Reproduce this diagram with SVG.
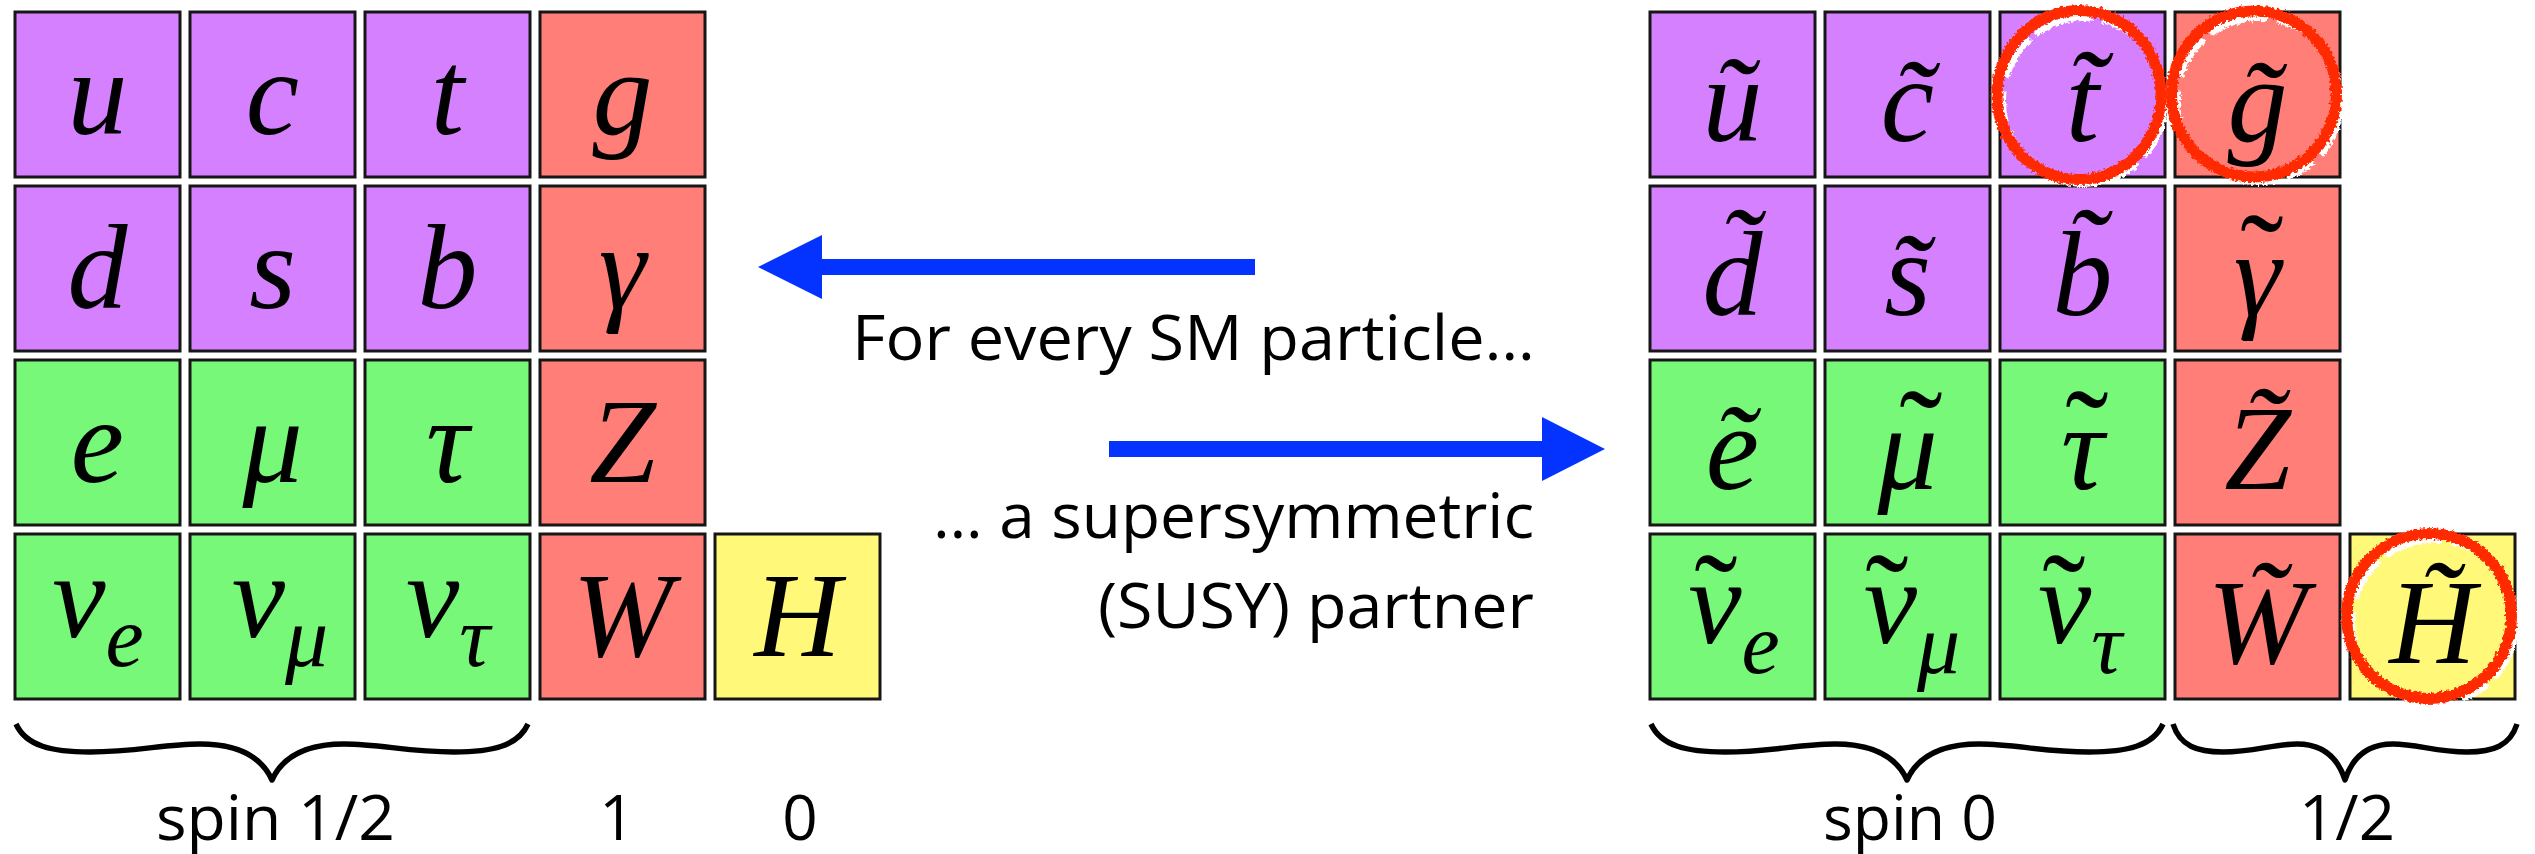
<svg xmlns="http://www.w3.org/2000/svg" width="2535" height="854" viewBox="0 0 2535 854">
  <style>
    .cell { stroke: #161616; stroke-width: 3; }
    .q { fill: #D580FF; }
    .l { fill: #78F878; }
    .b { fill: #FF7F78; }
    .h { fill: #FFF878; }
    .sym { font-family: "Liberation Serif", "DejaVu Serif", "Times New Roman", serif; font-style: italic; font-size: 120px; text-anchor: middle; fill: #000; }
    .sub { font-size: 86px; }
    .til { font-style: normal; font-size: 130px; }
    .lbl { font-family: "Open Sans", "Liberation Sans", sans-serif; font-size: 62px; fill: #000; }
    .mid { text-anchor: middle; }
    .brace { fill: none; stroke: #000; stroke-width: 5.5; stroke-linecap: butt; stroke-linejoin: round; }
    .arrow { fill: #0433FF; }
    .ring { fill: none; stroke: #FF2B06; stroke-width: 11; filter: url(#chalk); }
    .ring-hi { fill: none; stroke: #FFFFFF; stroke-width: 6; stroke-dasharray: 60 10 30 14 45 8; filter: url(#chalk); }
  </style>
  <defs>
    <filter id="chalk" x="-15%" y="-15%" width="130%" height="130%">
      <feTurbulence type="fractalNoise" baseFrequency="0.35" numOctaves="2" seed="7" result="noise"/>
      <feDisplacementMap in="SourceGraphic" in2="noise" scale="6" xChannelSelector="R" yChannelSelector="G"/>
    </filter>
  </defs>

  <rect width="2535" height="854" fill="#FFFFFF"/>

  <!-- Standard Model particles -->
  <g id="sm-u"><rect class="cell q" x="15" y="12" width="165" height="165"/><text class="sym" x="97.5" y="134">u</text></g>
  <g id="sm-c"><rect class="cell q" x="190" y="12" width="165" height="165"/><text class="sym" x="272.5" y="134">c</text></g>
  <g id="sm-t"><rect class="cell q" x="365" y="12" width="165" height="165"/><text class="sym" x="447.5" y="134">t</text></g>
  <g id="sm-g"><rect class="cell b" x="540" y="12" width="165" height="165"/><text class="sym" x="622.5" y="134">g</text></g>

  <g id="sm-d"><rect class="cell q" x="15" y="186" width="165" height="165"/><text class="sym" x="97.5" y="308">d</text></g>
  <g id="sm-s"><rect class="cell q" x="190" y="186" width="165" height="165"/><text class="sym" x="272.5" y="308">s</text></g>
  <g id="sm-b"><rect class="cell q" x="365" y="186" width="165" height="165"/><text class="sym" x="447.5" y="308">b</text></g>
  <g id="sm-gamma"><rect class="cell b" x="540" y="186" width="165" height="165"/><text class="sym" x="622.5" y="308">γ</text></g>

  <g id="sm-e"><rect class="cell l" x="15" y="360" width="165" height="165"/><text class="sym" x="97.5" y="482">e</text></g>
  <g id="sm-mu"><rect class="cell l" x="190" y="360" width="165" height="165"/><text class="sym" x="272.5" y="482">μ</text></g>
  <g id="sm-tau"><rect class="cell l" x="365" y="360" width="165" height="165"/><text class="sym" x="447.5" y="482">τ</text></g>
  <g id="sm-Z"><rect class="cell b" x="540" y="360" width="165" height="165"/><text class="sym" x="622.5" y="482">Z</text></g>

  <g id="sm-nue"><rect class="cell l" x="15" y="534" width="165" height="165"/><text class="sym" x="98" y="637">ν<tspan class="sub" dy="29">e</tspan></text></g>
  <g id="sm-numu"><rect class="cell l" x="190" y="534" width="165" height="165"/><text class="sym" x="280" y="637">ν<tspan class="sub" dy="29">μ</tspan></text></g>
  <g id="sm-nutau"><rect class="cell l" x="365" y="534" width="165" height="165"/><text class="sym" x="448" y="637">ν<tspan class="sub" dy="29">τ</tspan></text></g>
  <g id="sm-W"><rect class="cell b" x="540" y="534" width="165" height="165"/><text class="sym" x="622.5" y="656">W</text></g>
  <g id="sm-H"><rect class="cell h" x="715" y="534" width="165" height="165"/><text class="sym" x="797.5" y="656">H</text></g>

  <!-- Superpartners -->
  <g id="sp-u"><rect class="cell q" x="1650" y="12" width="165" height="165"/><text class="sym" x="1732.5" y="141">ũ</text></g>
  <g id="sp-c"><rect class="cell q" x="1825" y="12" width="165" height="165"/><text class="sym" x="1907.5" y="141">c̃</text></g>
  <g id="sp-t"><rect class="cell q" x="2000" y="12" width="165" height="165"/><text class="sym" x="2082.5" y="141">t̃</text></g>
  <g id="sp-g"><rect class="cell b" x="2175" y="12" width="165" height="165"/><text class="sym" x="2257.5" y="141">g̃</text></g>

  <g id="sp-d"><rect class="cell q" x="1650" y="186" width="165" height="165"/><text class="sym" x="1732.5" y="315">d̃</text></g>
  <g id="sp-s"><rect class="cell q" x="1825" y="186" width="165" height="165"/><text class="sym" x="1907.5" y="315">s̃</text></g>
  <g id="sp-b"><rect class="cell q" x="2000" y="186" width="165" height="165"/><text class="sym" x="2082.5" y="315">b̃</text></g>
  <g id="sp-gamma"><rect class="cell b" x="2175" y="186" width="165" height="165"/><text class="sym" x="2257.5" y="315">γ<tspan class="til" x="2262" y="303">˜</tspan></text></g>

  <g id="sp-e"><rect class="cell l" x="1650" y="360" width="165" height="165"/><text class="sym" x="1732.5" y="489">ẽ</text></g>
  <g id="sp-mu"><rect class="cell l" x="1825" y="360" width="165" height="165"/><text class="sym" x="1907.5" y="489">μ<tspan class="til" x="1921" y="479">˜</tspan></text></g>
  <g id="sp-tau"><rect class="cell l" x="2000" y="360" width="165" height="165"/><text class="sym" x="2082.5" y="489">τ<tspan class="til" x="2087" y="479">˜</tspan></text></g>
  <g id="sp-Z"><rect class="cell b" x="2175" y="360" width="165" height="165"/><text class="sym" x="2257.5" y="489">Z̃</text></g>

  <g id="sp-nue"><rect class="cell l" x="1650" y="534" width="165" height="165"/><text class="sym" x="1734" y="643">ν<tspan class="sub" dy="30">e</tspan><tspan class="til" x="1716" y="643">˜</tspan></text></g>
  <g id="sp-numu"><rect class="cell l" x="1825" y="534" width="165" height="165"/><text class="sym" x="1912" y="643">ν<tspan class="sub" dy="30">μ</tspan><tspan class="til" x="1887" y="643">˜</tspan></text></g>
  <g id="sp-nutau"><rect class="cell l" x="2000" y="534" width="165" height="165"/><text class="sym" x="2080" y="643">ν<tspan class="sub" dy="30">τ</tspan><tspan class="til" x="2064" y="643">˜</tspan></text></g>
  <g id="sp-W"><rect class="cell b" x="2175" y="534" width="165" height="165"/><text class="sym" x="2257.5" y="663">W̃</text></g>
  <g id="sp-H"><rect class="cell h" x="2350" y="534" width="165" height="165"/><text class="sym" x="2432.5" y="663">H̃</text></g>

  <!-- Hand-drawn highlight rings -->
  <g id="rings">
    <ellipse class="ring-hi" cx="2084" cy="101" rx="81" ry="83"/>
    <ellipse class="ring" cx="2079" cy="95" rx="82" ry="84.5"/>
    <ellipse class="ring-hi" cx="2259" cy="100" rx="82" ry="82"/>
    <ellipse class="ring" cx="2254" cy="94" rx="82.5" ry="83"/>
    <ellipse class="ring-hi" cx="2434" cy="622" rx="82" ry="82"/>
    <ellipse class="ring" cx="2429" cy="616" rx="82.5" ry="82.5"/>
  </g>

  <!-- Arrows between the two tables -->
  <g id="connectors">
    <polygon class="arrow" points="758,267 822,235 822,259 1255,259 1255,275 822,275 822,299"/>
    <polygon class="arrow" points="1605,449 1542,417 1542,441 1109,441 1109,457 1542,457 1542,481"/>
  </g>

  <g id="captions">
    <text class="lbl" x="852" y="360" textLength="683" lengthAdjust="spacingAndGlyphs">For every SM particle…</text>
    <text class="lbl" x="933" y="538" textLength="601" lengthAdjust="spacingAndGlyphs">… a supersymmetric</text>
    <text class="lbl" x="1098" y="628" textLength="436" lengthAdjust="spacingAndGlyphs">(SUSY) partner</text>
  </g>

  <!-- Spin braces -->
  <g id="braces">
    <path class="brace" d="M16,724 C26,746 52,752 90,752 C136,752 164,744 200,744 C241,744 262,758 272,780 C282,758 303,744 344,744 C380,744 408,752 454,752 C492,752 518,746 528,724"/>
    <path class="brace" d="M1651,724 C1661,746 1687,752 1725,752 C1771,752 1799,744 1835,744 C1876,744 1897,758 1907,780 C1917,758 1938,744 1979,744 C2015,744 2043,752 2089,752 C2127,752 2153,746 2163,724"/>
    <path class="brace" d="M2173,724 C2180,746 2197,752 2223,752 C2254,752 2273,744 2297,744 C2324,744 2338,758 2345,780 C2352,758 2366,744 2393,744 C2417,744 2436,752 2467,752 C2493,752 2510,746 2517,724"/>
  </g>

  <g id="spin-labels">
    <text class="lbl" x="156" y="840" textLength="239" lengthAdjust="spacingAndGlyphs">spin 1/2</text>
    <text class="lbl mid" x="617" y="840">1</text>
    <text class="lbl mid" x="800" y="840">0</text>
    <text class="lbl" x="1823" y="840" textLength="174" lengthAdjust="spacingAndGlyphs">spin 0</text>
    <text class="lbl" x="2299" y="840" textLength="96" lengthAdjust="spacingAndGlyphs">1/2</text>
  </g>
</svg>
